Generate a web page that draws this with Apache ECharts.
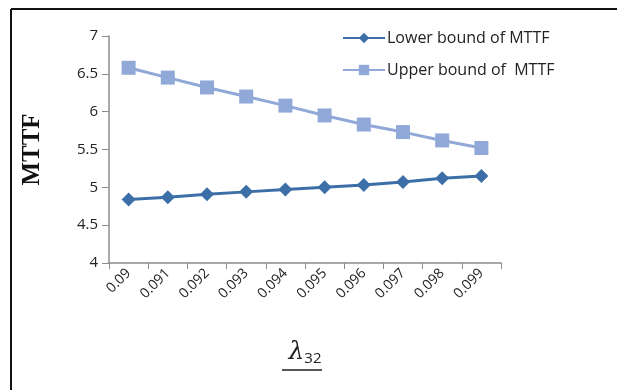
<!DOCTYPE html>
<html>
<head>
<meta charset="utf-8">
<script src="https://cdn.jsdelivr.net/npm/echarts@6/dist/echarts.min.js"></script>
<style>
  html, body { margin: 0; padding: 0; background: #fff; }
  #chart { width: 617px; height: 390px; }
</style>
</head>
<body>
<div id="chart"></div>
<script>
// lambda_32 values on the x axis
let categories = ['0.09', '0.091', '0.092', '0.093', '0.094', '0.095', '0.096', '0.097', '0.098', '0.099']
let lowerMTTF = [4.84, 4.87, 4.91, 4.94, 4.97, 5.00, 5.03, 5.07, 5.12, 5.15]
let upperMTTF = [6.58, 6.45, 6.32, 6.20, 6.08, 5.95, 5.83, 5.73, 5.62, 5.52]
let yTicks = [4, 7, 0.5] // min, max, step

let mychart = echarts.init(document.getElementById('chart'))

let options = {
    animation: false,
    backgroundColor: '#fff',
    grid: { left: 109, right: 116, top: 36, bottom: 127 },
    legend: {
        orient: 'vertical',
        left: 337,
        top: 25,
        itemWidth: 42,
        itemHeight: 13,
        itemGap: 16,
        textStyle: { fontFamily: 'Open Sans', fontSize: 16, color: '#222', padding: [0, 0, 0, -3] },
        data: ['Lower bound of MTTF', 'Upper bound of  MTTF']
    },
    xAxis: {
        type: 'category',
        data: categories,
        boundaryGap: true,
        axisLine: { lineStyle: { color: '#8c8c8c', width: 1.5 } },
        axisTick: { show: true, length: 6, inside: false, lineStyle: { color: '#8c8c8c' } },
        axisLabel: { rotate: 45, fontFamily: 'Open Sans', fontSize: 14, color: '#222', margin: 8 },
        name: '{l|λ}{s|32}',
        nameLocation: 'middle',
        nameGap: 76,
        nameTextStyle: {
            rich: {
                l: { fontFamily: 'DejaVu Serif', fontStyle: 'italic', fontSize: 25, color: '#222' },
                s: { fontFamily: 'Open Sans', fontSize: 15, color: '#222', padding: [12, 0, 0, 0] }
            }
        }
    },
    yAxis: {
        type: 'value',
        min: yTicks[0],
        max: yTicks[1],
        interval: yTicks[2],
        axisLine: { show: true, lineStyle: { color: '#8c8c8c', width: 1.5 } },
        axisTick: { show: true, length: 7, lineStyle: { color: '#8c8c8c' } },
        splitLine: { show: false },
        axisLabel: { fontFamily: 'Open Sans', fontSize: 15, color: '#222', margin: 11 },
        name: 'MTTF',
        nameLocation: 'middle',
        nameGap: 64,
        nameRotate: 90,
        nameTextStyle: { fontFamily: 'Liberation Serif', fontWeight: 'bold', fontSize: 25, color: '#111' }
    },
    series: [
        {
            name: 'Lower bound of MTTF',
            type: 'line',
            data: lowerMTTF,
            symbol: 'diamond',
            symbolSize: 14,
            itemStyle: { color: '#3c6fa8' },
            lineStyle: { color: '#3c6fa8', width: 3 }
        },
        {
            name: 'Upper bound of  MTTF',
            type: 'line',
            data: upperMTTF,
            symbol: 'rect',
            symbolSize: 14,
            itemStyle: { color: '#91a9d8' },
            lineStyle: { color: '#91a9d8', width: 3 }
        }
    ],
    graphic: [
        // frame, only top and left edges show in the picture
        { type: 'line', shape: { x1: 11, y1: 9, x2: 617, y2: 9 }, style: { stroke: '#111', lineWidth: 2 } },
        { type: 'line', shape: { x1: 11, y1: 9, x2: 11, y2: 390 }, style: { stroke: '#111', lineWidth: 2 } },
        // underline below the x axis name
        { type: 'line', shape: { x1: 282, y1: 370, x2: 322, y2: 370 }, style: { stroke: '#555', lineWidth: 2 } }
    ]
}
mychart.setOption(options)
</script>
</body>
</html>
